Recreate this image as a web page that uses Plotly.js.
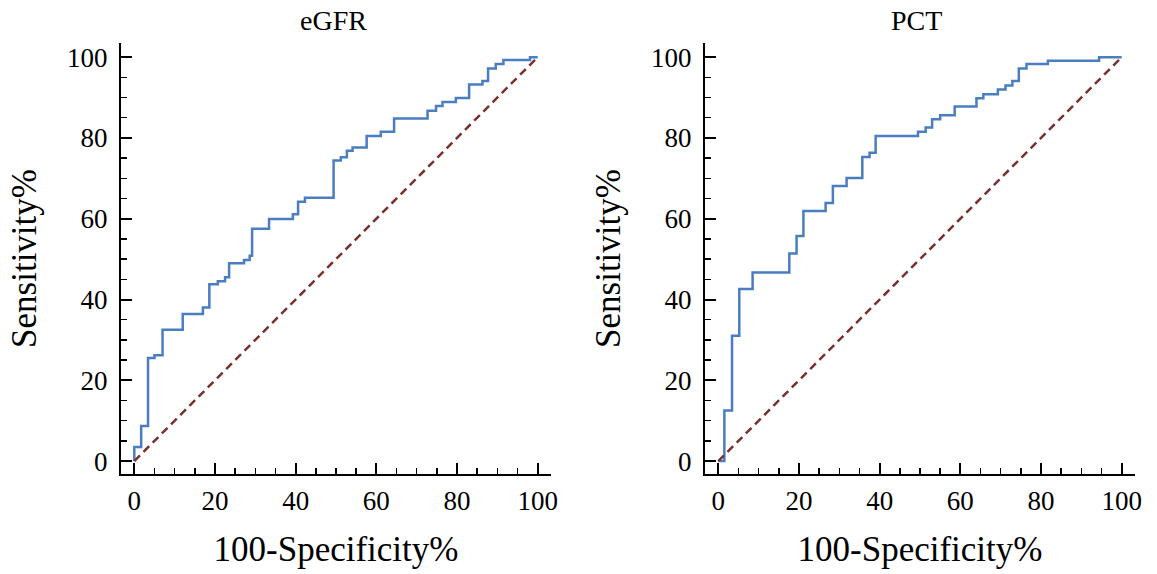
<!DOCTYPE html>
<html>
<head>
<meta charset="utf-8">
<script src="https://cdn.plot.ly/plotly-3.0.1.min.js"></script>
<style>html,body{margin:0;padding:0;background:#fff;}#chart{width:1157px;height:574px;}</style>
</head>
<body>
<div id="chart"></div>
<script>
// eGFR ROC curve (100-Specificity%, Sensitivity%) — step corners
const egfrFpr = [0, 0, 1.7, 3.4, 5.0, 7.0, 12.0, 17.0, 18.6, 20.7, 22.5, 23.5, 27.2, 28.6, 29.2, 33.4, 39.3, 40.6, 42.3, 49.4, 51.2, 52.7, 54.1, 57.6, 61.1, 64.4, 72.7, 74.8, 76.4, 79.7, 83.0, 86.3, 87.7, 89.6, 91.5, 98.1, 100];
const egfrTpr = [0, 3.5, 8.7, 25.5, 26.2, 32.5, 36.4, 38.0, 43.8, 44.5, 45.5, 49.0, 49.8, 50.8, 57.5, 59.9, 61.1, 64.2, 65.2, 74.4, 75.2, 76.8, 77.6, 80.5, 81.5, 84.8, 86.7, 87.9, 88.9, 89.9, 93.2, 94.1, 97.2, 98.3, 99.3, 100, 100];
// PCT ROC curve
const pctFpr = [0, 1.5, 1.5, 3.4, 5.2, 8.5, 17.6, 19.4, 21.1, 26.6, 28.4, 31.8, 35.7, 37.5, 39.0, 49.5, 51.4, 53.0, 55.0, 58.6, 64.0, 65.7, 69.3, 71.2, 72.9, 74.5, 76.4, 81.7, 94.4, 100];
const pctTpr = [0, 1.5, 12.5, 31.0, 42.6, 46.7, 51.4, 55.7, 61.9, 63.9, 68.1, 70.1, 75.3, 76.3, 80.5, 81.5, 82.6, 84.6, 85.6, 87.8, 89.8, 90.8, 92.0, 93.0, 94.1, 97.2, 98.3, 99.1, 100, 100];
// reference diagonal
const diagX = [0, 100];
const diagY = [0, 100];
const tickVals = [0, 20, 40, 60, 80, 100];
const tickText = ['0', '20', '40', '60', '80', '100'];
const panelTitles = ['eGFR', 'PCT'];
const xTitle = '100-Specificity%';
const yTitle = 'Sensitivity%';

const W = 1157, H = 574;
const FONT = 'Liberation Serif, Times New Roman, serif';
const blue = '#4a7ec0';
const brown = '#7a2f2f';

const traces = [
  {x: egfrFpr, y: egfrTpr, xaxis: 'x', yaxis: 'y', mode: 'lines', line: {color: blue, width: 2.5, shape: 'hv'}, hoverinfo: 'skip'},
  {x: diagX, y: diagY, xaxis: 'x', yaxis: 'y', mode: 'lines', line: {color: brown, width: 2.5, dash: '8px,5px'}, hoverinfo: 'skip'},
  {x: pctFpr, y: pctTpr, xaxis: 'x2', yaxis: 'y2', mode: 'lines', line: {color: blue, width: 2.5, shape: 'hv'}, hoverinfo: 'skip'},
  {x: diagX, y: diagY, xaxis: 'x2', yaxis: 'y2', mode: 'lines', line: {color: brown, width: 2.5, dash: '8px,5px'}, hoverinfo: 'skip'}
];

function xa(domPx) {
  return {
    domain: [domPx[0] / W, domPx[1] / W],
    range: [-3.3, 103.3],
    showgrid: false, zeroline: false,
    showline: true, linecolor: '#000', linewidth: 2,
    ticks: 'inside', ticklen: 11, tickwidth: 2, tickcolor: '#000',
    tickvals: tickVals, ticktext: tickText,
    tickfont: {family: FONT, size: 27, color: '#000'},
    ticklabelstandoff: 2,
    minor: {ticks: 'inside', ticklen: 6, tickwidth: 1.5, tickcolor: '#000', dtick: 5, tick0: 0, showgrid: false},
    title: {text: xTitle, font: {family: FONT, size: 35, color: '#000'}, standoff: 21},
    automargin: false, fixedrange: true
  };
}
function ya(anchor) {
  return {
    domain: [1 - 474 / H, 1 - 43 / H],
    anchor: anchor,
    range: [-3.2, 103.5],
    showgrid: false, zeroline: false,
    showline: true, linecolor: '#000', linewidth: 2,
    ticks: 'inside', ticklen: 11, tickwidth: 2, tickcolor: '#000',
    tickvals: tickVals, ticktext: tickText,
    tickfont: {family: FONT, size: 27, color: '#000'},
    ticklabelstandoff: 6,
    minor: {ticks: 'inside', ticklen: 6, tickwidth: 1.5, tickcolor: '#000', dtick: 5, tick0: 0, showgrid: false},
    title: {text: yTitle, font: {family: FONT, size: 35, color: '#000'}, standoff: 20},
    automargin: false, fixedrange: true
  };
}

const xa1 = xa([121, 551]); xa1.anchor = 'y';
const xa2 = xa([705, 1135]); xa2.anchor = 'y2';

const layout = {
  width: W, height: H,
  margin: {l: 0, r: 0, t: 0, b: 0},
  paper_bgcolor: '#fff', plot_bgcolor: '#fff',
  showlegend: false,
  xaxis: xa1, yaxis: ya('x'),
  xaxis2: xa2, yaxis2: ya('x2'),
  annotations: [
    {text: panelTitles[0], xref: 'paper', yref: 'paper', x: 333 / W, y: 1 - 20 / H, xanchor: 'center', yanchor: 'middle', showarrow: false, font: {family: FONT, size: 28, color: '#000'}},
    {text: panelTitles[1], xref: 'paper', yref: 'paper', x: 916 / W, y: 1 - 20 / H, xanchor: 'center', yanchor: 'middle', showarrow: false, font: {family: FONT, size: 28, color: '#000'}}
  ]
};

Plotly.newPlot('chart', traces, layout, {displayModeBar: false, staticPlot: true});
</script>
</body>
</html>
